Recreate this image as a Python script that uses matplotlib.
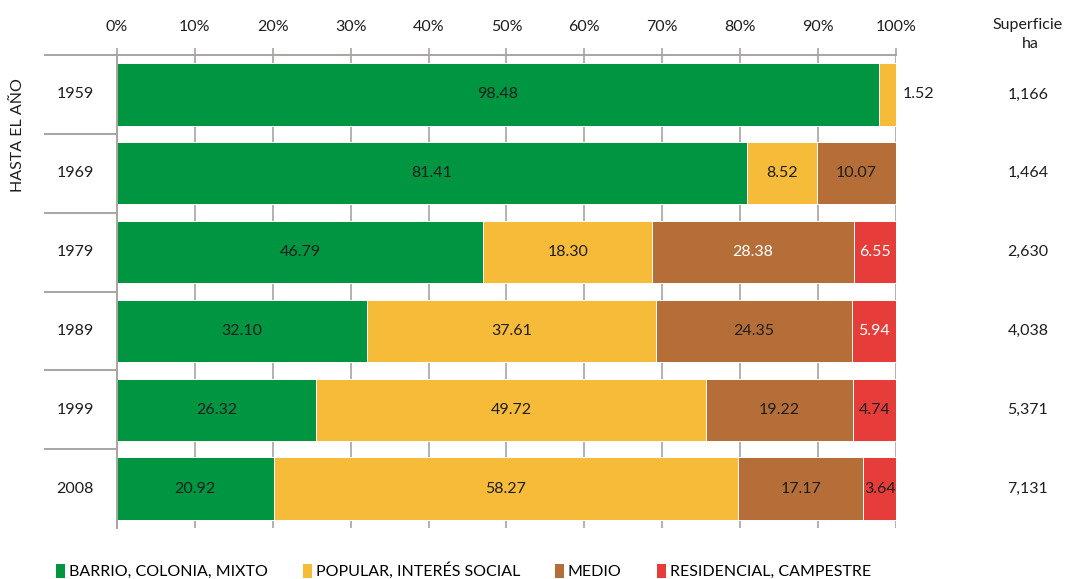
import matplotlib
matplotlib.use("Agg")
import matplotlib.pyplot as plt
from matplotlib.patches import Patch
import matplotlib.transforms as mtransforms

plt.rcParams['font.family'] = ['Lato', 'DejaVu Sans']

# ---------------- data ----------------
years = ["1959", "1969", "1979", "1989", "1999", "2008"]
superficie = ["1,166", "1,464", "2,630", "4,038", "5,371", "7,131"]
categories = ["BARRIO, COLONIA, MIXTO", "POPULAR, INTERÉS SOCIAL", "MEDIO", "RESIDENCIAL, CAMPESTRE"]

# printed labels (percent)
barrio_lbl = [98.48, 81.41, 46.79, 32.10, 26.32, 20.92]
popular_lbl = [1.52, 8.52, 18.30, 37.61, 49.72, 58.27]
medio_lbl = [None, 10.07, 28.38, 24.35, 19.22, 17.17]
resid_lbl = [None, None, 6.55, 5.94, 4.74, 3.64]

# bar lengths as drawn in the picture (percent)
barrio_w = [97.8, 80.9, 47.0, 32.1, 25.6, 20.1]
popular_w = [2.2, 9.0, 21.7, 37.1, 50.0, 59.6]
medio_w = [0.0, 10.1, 25.9, 25.15, 18.9, 16.1]
resid_w = [0.0, 0.0, 5.4, 5.65, 5.5, 4.2]

ticks = [0, 10, 20, 30, 40, 50, 60, 70, 80, 90, 100]

# ---------------- style ----------------
colors = ["#009540", "#F6BB38", "#B66E39", "#E63C3A"]
dark = "#1e1e1e"
gray = "#A9A3A1"
# label text colours per (row, category)
white_labels = {(2, 2), (2, 3), (3, 3)}

W, H = 1068, 579
fig = plt.figure(figsize=(W / 100, H / 100), dpi=100)
x0, x1 = 117, 896
ytop, ybot = 55, 528
ax = fig.add_axes([x0 / W, 1 - ybot / H, (x1 - x0) / W, (ybot - ytop) / H])

ypos = list(range(len(years)))
widths = [barrio_w, popular_w, medio_w, resid_w]
labels = [barrio_lbl, popular_lbl, medio_lbl, resid_lbl]
lefts = [0.0] * len(years)
for c in range(4):
    ax.barh(ypos, widths[c], left=lefts, height=0.79, color=colors[c],
            edgecolor="white", linewidth=0.7, zorder=2)
    for i in ypos:
        lab = labels[c][i]
        if lab is not None:
            w = widths[c][i]
            tc = "white" if (i, c) in white_labels else dark
            if w < 3:
                ax.text(lefts[i] + w + 0.8, i, f"{lab:.2f}", ha="left", va="center",
                        fontsize=11.5, color=dark, zorder=3)
            else:
                ax.text(lefts[i] + w / 2, i, f"{lab:.2f}", ha="center", va="center",
                        fontsize=11.5, color=tc, zorder=3)
    lefts = [lefts[i] + widths[c][i] for i in ypos]

ax.set_xlim(0, 100)
ax.set_ylim(len(years) - 0.5, -0.5)
ax.xaxis.tick_top()
ax.set_xticks(ticks)
ax.set_xticklabels([f"{t}%" for t in ticks])
ax.tick_params(axis="x", length=5, width=1.2, color=gray, pad=10,
               labelsize=11.5, labelcolor=dark)
ax.set_yticks([])
ax.grid(axis="x", color=gray, linewidth=1.2, zorder=0)
ax.set_axisbelow(True)
for s in ["right", "bottom"]:
    ax.spines[s].set_visible(False)
for s in ["top", "left"]:
    ax.spines[s].set_color(gray)
    ax.spines[s].set_linewidth(1.4)

# left cell lines
lx = (45 - x0) / (x1 - x0)
trans = mtransforms.blended_transform_factory(ax.transAxes, ax.transData)
ax.plot([lx, 0], [-0.5, -0.5], transform=trans, color=gray, lw=1.4, clip_on=False)
for i in range(len(years) - 1):
    ax.plot([lx, 0], [i + 0.5, i + 0.5], transform=trans, color=gray, lw=1.4, clip_on=False)

# year labels
yx = (75 - x0) / (x1 - x0)
for i, y in enumerate(years):
    ax.text(yx, i, y, transform=trans, ha="center", va="center", fontsize=11.5, color=dark)

# right column
rx = (1028 - x0) / (x1 - x0)
for i, s in enumerate(superficie):
    ax.text(rx, i, s, transform=trans, ha="center", va="center", fontsize=11.5, color=dark)
fig.text(1028 / W, 1 - 25 / H, "Superficie", ha="center", va="center", fontsize=11.5, color=dark)
fig.text(1030 / W, 1 - 44 / H, "ha", ha="center", va="center", fontsize=11.5, color=dark)

# rotated title
fig.text(18 / W, 1 - 135 / H, "HASTA EL AÑO", rotation=90, ha="center", va="center",
         fontsize=11.5, color=dark)

# legend
handles = [Patch(facecolor=colors[c], edgecolor="none") for c in range(4)]
fig.legend(handles, categories, loc="center left", bbox_to_anchor=(56 / W, 1 - 571 / H),
           ncol=4, frameon=False, fontsize=11.5, handlelength=0.55, handleheight=1.0,
           handletextpad=0.25, columnspacing=2.2, borderpad=0, borderaxespad=0)

fig.savefig("out.png", dpi=100, facecolor="white")
